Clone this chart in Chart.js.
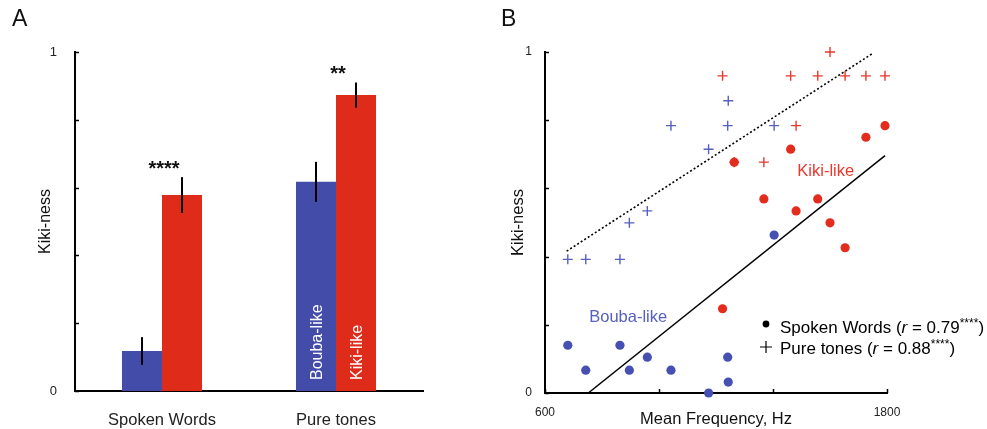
<!DOCTYPE html>
<html>
<head>
<meta charset="utf-8">
<title>Kiki-ness</title>
<script src="https://cdn.jsdelivr.net/npm/chart.js@4.4.1/dist/chart.umd.min.js"></script>
<style>
  html, body { margin: 0; padding: 0; background: #fff; }
  #wrap { position: relative; width: 987px; height: 429px; overflow: hidden;
          font-family: "Liberation Sans", Arial, sans-serif; }
  canvas { position: absolute; top: 0; }
  #cA { left: 0; }
  #cB { left: 490px; }
  .panel { position: absolute; font-size: 23px; line-height: 23px; color: #111; }
</style>
</head>
<body>
<div id="wrap">
  <canvas id="cA" width="490" height="429"></canvas>
  <canvas id="cB" width="497" height="429"></canvas>
  <div class="panel" style="left:12px; top:7px;">A</div>
  <div class="panel" style="left:501px; top:7px;">B</div>
</div>
<script>
// ── Panel A: mean Kiki-ness per condition ─────────────────────
const barCategories = ['Spoken Words', 'Pure tones'];
const boubaMeans    = [0.118, 0.617];
const boubaErr      = [0.041, 0.059];
const kikiMeans     = [0.578, 0.873];
const kikiErr       = [0.053, 0.037];
const starLabels    = ['****', '**'];
const yTicks        = [0, 0.2, 0.4, 0.6, 0.8, 1];

// ── Panel B: Kiki-ness vs mean frequency ──────────────────────
const boubaFreq      = [680, 743, 863, 896, 959, 1042, 1174, 1241, 1243, 1404];
const kikiFreq       = [1223, 1264, 1368, 1462, 1481, 1557, 1600, 1653, 1726, 1793];
const wordsBoubaKiki = [0.140, 0.067, 0.140, 0.067, 0.105, 0.067, 0.0, 0.105, 0.032, 0.463];
const wordsKikiKiki  = [0.247, 0.677, 0.569, 0.715, 0.534, 0.569, 0.499, 0.426, 0.750, 0.784];
const tonesBoubaKiki = [0.392, 0.392, 0.392, 0.499, 0.534, 0.784, 0.715, 0.784, 0.857, 0.784];
const tonesKikiKiki  = [0.930, 0.677, 0.677, 0.930, 0.784, 0.930, 1.0, 0.930, 0.930, 0.930];
const wordsFitFreq   = [752, 1793];
const wordsFitKiki   = [0, 0.696];
const tonesFitFreq   = [676, 1750];
const tonesFitKiki   = [0.416, 0.996];
const xTicksB        = [600, 1000, 1400, 1800];

const FONT  = '"Liberation Sans", Arial, sans-serif';
const BLUE  = '#434CA8';
const RED   = '#DE2B1A';
const BLUE_PT  = '#4650B2';
const RED_PT   = '#E22C1E';
const BLUE_X   = '#5560C0';
const RED_X    = '#E8392D';

Chart.defaults.font.family = FONT;
Chart.defaults.color = '#222';
Chart.defaults.animation = false;

const zip = (xs, ys) => xs.map((x, i) => ({ x, y: ys[i] }));
const endLabels = (v) => (v === 0 || v === 1 ? String(v) : '');

// inward tick marks on every axis
const innerTicks = {
  id: 'innerTicks',
  afterDraw(chart, args, opts) {
    const { ctx, chartArea: a } = chart;
    ctx.save();
    ctx.strokeStyle = '#000';
    ctx.lineWidth = 1.5;
    const y = chart.scales.y;
    y.ticks.forEach(t => {
      const py = Math.round(y.getPixelForValue(t.value)) + 0.5;
      ctx.beginPath(); ctx.moveTo(a.left, py); ctx.lineTo(a.left + 4, py); ctx.stroke();
    });
    if (chart.config.type === 'scatter') {
      const x = chart.scales.x;
      x.ticks.forEach(t => {
        const px = Math.round(x.getPixelForValue(t.value)) + 0.5;
        ctx.beginPath(); ctx.moveTo(px, a.bottom); ctx.lineTo(px, a.bottom - 4); ctx.stroke();
      });
    }
    ctx.restore();
  }
};

// error bars, stars and in-bar labels for panel A
const barExtras = {
  id: 'barExtras',
  afterDatasetsDraw(chart) {
    const { ctx } = chart;
    const y = chart.scales.y, x = chart.scales.x;
    ctx.save();
    ctx.strokeStyle = '#000';
    ctx.lineWidth = 2;
    chart.data.datasets.forEach((ds, di) => {
      chart.getDatasetMeta(di).data.forEach((bar, i) => {
        const top = y.getPixelForValue(ds.data[i] + ds.err[i]);
        const bot = y.getPixelForValue(ds.data[i] - ds.err[i]);
        ctx.beginPath(); ctx.moveTo(bar.x, top); ctx.lineTo(bar.x, bot); ctx.stroke();
      });
    });
    // significance stars
    ctx.fillStyle = '#111';
    ctx.font = `bold 20px ${FONT}`;
    ctx.textAlign = 'center';
    ctx.textBaseline = 'middle';
    starLabels.forEach((s, i) => {
      const errTop = y.getPixelForValue(kikiMeans[i] + kikiErr[i]);
      ctx.fillText(s, x.getPixelForValue(i) + 2, errTop - 8);
    });
    // labels inside the Pure tones bars
    ctx.fillStyle = '#fff';
    ctx.font = `16px ${FONT}`;
    ctx.textAlign = 'left';
    chart.data.datasets.forEach((ds, di) => {
      const bar = chart.getDatasetMeta(di).data[1];
      ctx.save();
      ctx.translate(bar.x + 2, bar.base - 11);
      ctx.rotate(-Math.PI / 2);
      ctx.fillText(ds.label, 0, 0);
      ctx.restore();
    });
    ctx.restore();
  }
};

new Chart(document.getElementById('cA'), {
  type: 'bar',
  data: {
    labels: barCategories,
    datasets: [
      { label: 'Bouba-like', data: boubaMeans, err: boubaErr, backgroundColor: BLUE },
      { label: 'Kiki-like',  data: kikiMeans,  err: kikiErr,  backgroundColor: RED }
    ]
  },
  options: {
    responsive: false,
    layout: { padding: { left: 36, top: 52, right: 67, bottom: 0 } },
    datasets: { bar: { barPercentage: 1, categoryPercentage: 0.46 } },
    plugins: { legend: { display: false }, tooltip: { enabled: false } },
    scales: {
      x: {
        grid: { display: false },
        border: { color: '#000', width: 2 },
        ticks: { font: { size: 16.5 }, color: '#222', padding: 12 },
        afterFit: (s) => { s.height = 38; }
      },
      y: {
        min: 0, max: 1,
        grid: { display: false },
        border: { color: '#000', width: 2 },
        afterBuildTicks: (s) => { s.ticks = yTicks.map(v => ({ value: v })); },
        ticks: { callback: endLabels, font: { size: 13 }, color: '#222', padding: 10, autoSkip: false },
        title: { display: true, text: 'Kiki-ness', font: { size: 16 }, color: '#111', padding: 0 },
        afterFit: (s) => { s.width = 39; }
      }
    }
  },
  plugins: [barExtras, innerTicks]
});

// legend and group labels for panel B
const scatterExtras = {
  id: 'scatterExtras',
  afterDraw(chart) {
    const { ctx, chartArea: a } = chart;
    const x = chart.scales.x, y = chart.scales.y;
    ctx.save();
    ctx.font = `16.5px ${FONT}`;
    ctx.textAlign = 'center';
    ctx.textBaseline = 'middle';
    ctx.fillStyle = RED_X;
    ctx.fillText('Kiki-like', x.getPixelForValue(1585), y.getPixelForValue(0.651));
    ctx.fillStyle = BLUE_X;
    ctx.fillText('Bouba-like', x.getPixelForValue(892), y.getPixelForValue(0.222));

    // legend
    const lx = a.right - 121, tx = lx + 14;
    ctx.fillStyle = '#000';
    ctx.beginPath(); ctx.arc(lx, 324, 3.4, 0, Math.PI * 2); ctx.fill();
    ctx.strokeStyle = '#000'; ctx.lineWidth = 1.2;
    ctx.beginPath();
    ctx.moveTo(lx - 6, 347); ctx.lineTo(lx + 6, 347);
    ctx.moveTo(lx, 341); ctx.lineTo(lx, 353);
    ctx.stroke();

    ctx.textAlign = 'left';
    ctx.textBaseline = 'alphabetic';
    const line = (parts, by) => {
      let cx = tx;
      parts.forEach(([txt, style]) => {
        let dy = 0;
        if (style === 'i') ctx.font = `italic 17px ${FONT}`;
        else if (style === 'sup') { ctx.font = `12px ${FONT}`; dy = -6; }
        else ctx.font = `17px ${FONT}`;
        ctx.fillText(txt, cx, by + dy);
        cx += ctx.measureText(txt).width;
      });
    };
    line([['Spoken Words (', ''], ['r', 'i'], [' = 0.79', ''], ['****', 'sup'], [')', '']], 333);
    line([['Pure tones (', ''], ['r', 'i'], [' = 0.88', ''], ['****', 'sup'], [')', '']], 354);
    ctx.restore();
  }
};

new Chart(document.getElementById('cB'), {
  type: 'scatter',
  data: {
    datasets: [
      { label: 'Spoken words fit', type: 'line', data: zip(wordsFitFreq, wordsFitKiki),
        borderColor: '#000', borderWidth: 1.5, pointRadius: 0, order: 2 },
      { label: 'Pure tones fit', type: 'line', data: zip(tonesFitFreq, tonesFitKiki),
        borderColor: '#000', borderWidth: 1.6, borderDash: [2, 2.2], pointRadius: 0, order: 2 },
      { label: 'Words Bouba', data: zip(boubaFreq, wordsBoubaKiki),
        pointStyle: 'circle', pointRadius: 4.6, backgroundColor: BLUE_PT, borderWidth: 0, order: 1 },
      { label: 'Words Kiki', data: zip(kikiFreq, wordsKikiKiki),
        pointStyle: 'circle', pointRadius: 4.6, backgroundColor: RED_PT, borderWidth: 0, order: 1 },
      { label: 'Tones Bouba', data: zip(boubaFreq, tonesBoubaKiki),
        pointStyle: 'cross', pointRadius: 5, borderColor: BLUE_X, borderWidth: 1.4, order: 1 },
      { label: 'Tones Kiki', data: zip(kikiFreq, tonesKikiKiki),
        pointStyle: 'cross', pointRadius: 5, borderColor: RED_X, borderWidth: 1.4, order: 1 }
    ]
  },
  options: {
    responsive: false,
    clip: false,
    layout: { padding: { left: 19, top: 52, right: 100, bottom: 0 } },
    plugins: { legend: { display: false }, tooltip: { enabled: false } },
    scales: {
      x: {
        type: 'linear', min: 600, max: 1800,
        grid: { display: false },
        border: { color: '#000', width: 2 },
        afterBuildTicks: (s) => { s.ticks = xTicksB.map(v => ({ value: v })); },
        ticks: { callback: (v) => (v === 600 || v === 1800 ? String(v) : ''),
                 font: { size: 12 }, color: '#222', padding: 4, autoSkip: false, maxRotation: 0 },
        title: { display: true, text: 'Mean Frequency, Hz', font: { size: 16.5 }, color: '#111', padding: 0 },
        afterFit: (s) => { s.height = 36; }
      },
      y: {
        min: 0, max: 1,
        grid: { display: false },
        border: { color: '#000', width: 2 },
        afterBuildTicks: (s) => { s.ticks = yTicks.map(v => ({ value: v })); },
        ticks: { callback: endLabels, font: { size: 12 }, color: '#222', padding: 5, autoSkip: false },
        title: { display: true, text: 'Kiki-ness', font: { size: 16.5 }, color: '#111', padding: 0 },
        afterFit: (s) => { s.width = 36; }
      }
    }
  },
  plugins: [scatterExtras, innerTicks]
});
</script>
</body>
</html>
